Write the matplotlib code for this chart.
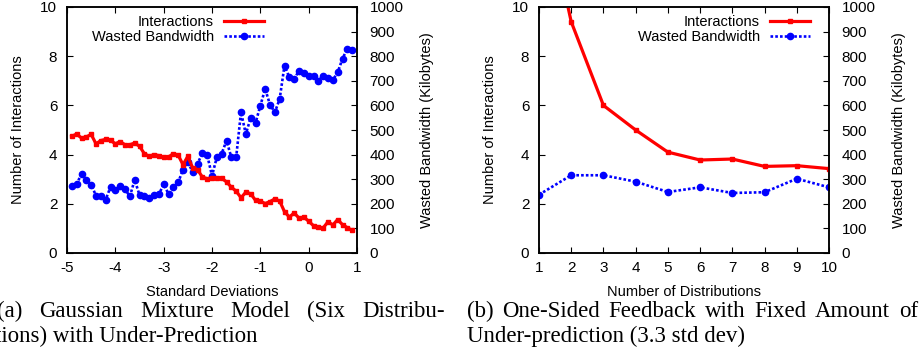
import numpy as np
import matplotlib
matplotlib.use('Agg')
import matplotlib.pyplot as plt

plt.rcParams['font.family'] = ['Liberation Sans', 'DejaVu Sans']
plt.rcParams['axes.unicode_minus'] = False

# (a) Gaussian mixture, under-prediction
std_dev = [-4.9, -4.8, -4.7, -4.6, -4.5, -4.4, -4.3, -4.2, -4.1, -4.0,
           -3.9, -3.8, -3.7, -3.6, -3.5, -3.4, -3.3, -3.2, -3.1, -3.0,
           -2.9, -2.8, -2.7, -2.6, -2.5, -2.4, -2.3, -2.2, -2.1, -2.0,
           -1.9, -1.8, -1.7, -1.6, -1.5, -1.4, -1.3, -1.2, -1.1, -1.0,
           -0.9, -0.8, -0.7, -0.6, -0.5, -0.4, -0.3, -0.2, -0.1, 0.0,
           0.1, 0.2, 0.3, 0.4, 0.5, 0.6, 0.7, 0.8, 0.9]
inter_a = [4.74, 4.84, 4.67, 4.72, 4.82, 4.44, 4.57, 4.62, 4.58, 4.44,
           4.53, 4.40, 4.40, 4.47, 4.34, 4.04, 3.93, 4.00, 3.96, 3.89,
           3.90, 4.04, 3.98, 3.59, 3.93, 3.46, 3.39, 3.09, 3.02, 3.04,
           3.06, 3.04, 2.89, 2.68, 2.51, 2.25, 2.47, 2.41, 2.14, 2.11,
           2.01, 2.09, 2.20, 2.11, 1.68, 1.46, 1.63, 1.42, 1.46, 1.29,
           1.11, 1.04, 1.02, 1.27, 1.14, 1.36, 1.15, 1.03, 0.92]
bw_a = [271, 280, 322, 295, 278, 233, 233, 217, 268, 255,
        274, 260, 230, 297, 236, 233, 225, 234, 238, 280,
        240, 267, 287, 339, 370, 329, 363, 405, 398, 314,
        389, 404, 457, 389, 389, 572, 484, 549, 528, 599,
        667, 603, 572, 626, 762, 714, 707, 741, 732, 721,
        720, 701, 720, 710, 703, 734, 790, 831, 827]

# (b) one-sided feedback, fixed under-prediction
n_dist = [1, 2, 3, 4, 5, 6, 7, 8, 9, 10]
inter_b = [15.4, 9.4, 6.0, 5.0, 4.1, 3.78, 3.82, 3.52, 3.55, 3.43]
bw_b = [237, 316, 316, 290, 248, 267, 244, 247, 302, 267]

W, H = 921, 356
fig = plt.figure(figsize=(W / 100, H / 100), dpi=100)

def panel(left, x, y1, y2, xlim, xticks, xlabel, leg_x):
    ax = fig.add_axes([left / W, (H - 253) / H, 290 / W, 246 / H])
    ax2 = ax.twinx()
    l1, = ax.plot(x, y1, color='red', lw=2.3, marker='s', ms=2.5)
    l2, = ax2.plot(x, y2, color='blue', lw=1.9, ls=(0, (1, 0.8)), marker='o', ms=4.5)
    ax.set_xlim(*xlim)
    ax.set_ylim(0, 10)
    ax2.set_ylim(0, 1000)
    ax.set_xticks(xticks)
    ax.set_yticks(range(0, 11, 2))
    ax2.set_yticks(range(0, 1001, 100))
    ax.tick_params(axis='x', direction='in', top=True, length=4, labelsize=11, pad=6)
    ax.tick_params(axis='y', direction='in', length=4, labelsize=11, pad=7)
    ax2.tick_params(direction='in', length=4, labelsize=11, pad=9)
    for a in (ax, ax2):
        for s in a.spines.values():
            s.set_linewidth(1.1)
    ax.set_xlabel(xlabel, fontsize=10.5, labelpad=7)
    ax.set_ylabel('Number of Interactions', fontsize=10.5, labelpad=11)
    ax2.set_ylabel('Wasted Bandwidth (Kilobytes)', fontsize=10.5, labelpad=12)
    ax.set_zorder(ax2.get_zorder() + 1)
    ax.patch.set_visible(False)
    ax.legend([l1, l2], ['Interactions', 'Wasted Bandwidth'], loc='upper right',
              bbox_to_anchor=(leg_x, 0.99), frameon=False, markerfirst=False,
              numpoints=1, handlelength=2.75, handletextpad=0.7, labelspacing=0.05,
              fontsize=10.5, borderaxespad=0)
    return ax

panel(67, std_dev, inter_a, bw_a, (-5, 1), range(-5, 2), 'Standard Deviations', 0.70)
panel(539, n_dist, inter_b, bw_b, (1, 10), n_dist, 'Number of Distributions', 0.955)

# captions (Times-like, justified first line)
cap = dict(family='Liberation Serif', fontsize=16.5, va='baseline')
renderer = fig.canvas.get_renderer()

def justify(words, x0, x1, y):
    texts = [fig.text(0, 1 - y / H, w, **cap) for w in words]
    widths = [t.get_window_extent(renderer).width for t in texts]
    gap = (x1 - x0 - sum(widths)) / (len(words) - 1)
    pos = x0
    for t, w in zip(texts, widths):
        t.set_x(pos / W)
        pos += w + gap

justify(['(a)', 'Gaussian', 'Mixture', 'Model', '(Six', 'Distribu-'], -3, 445, 317)
fig.text(-5 / W, 1 - 342 / H, 'tions) with Under-Prediction', **cap)
justify(['(b)', 'One-Sided', 'Feedback', 'with', 'Fixed', 'Amount', 'of'], 467, 918, 317)
fig.text(467 / W, 1 - 342 / H, 'Under-prediction (3.3 std dev)', **cap)

plt.savefig('out.png', dpi=100)
